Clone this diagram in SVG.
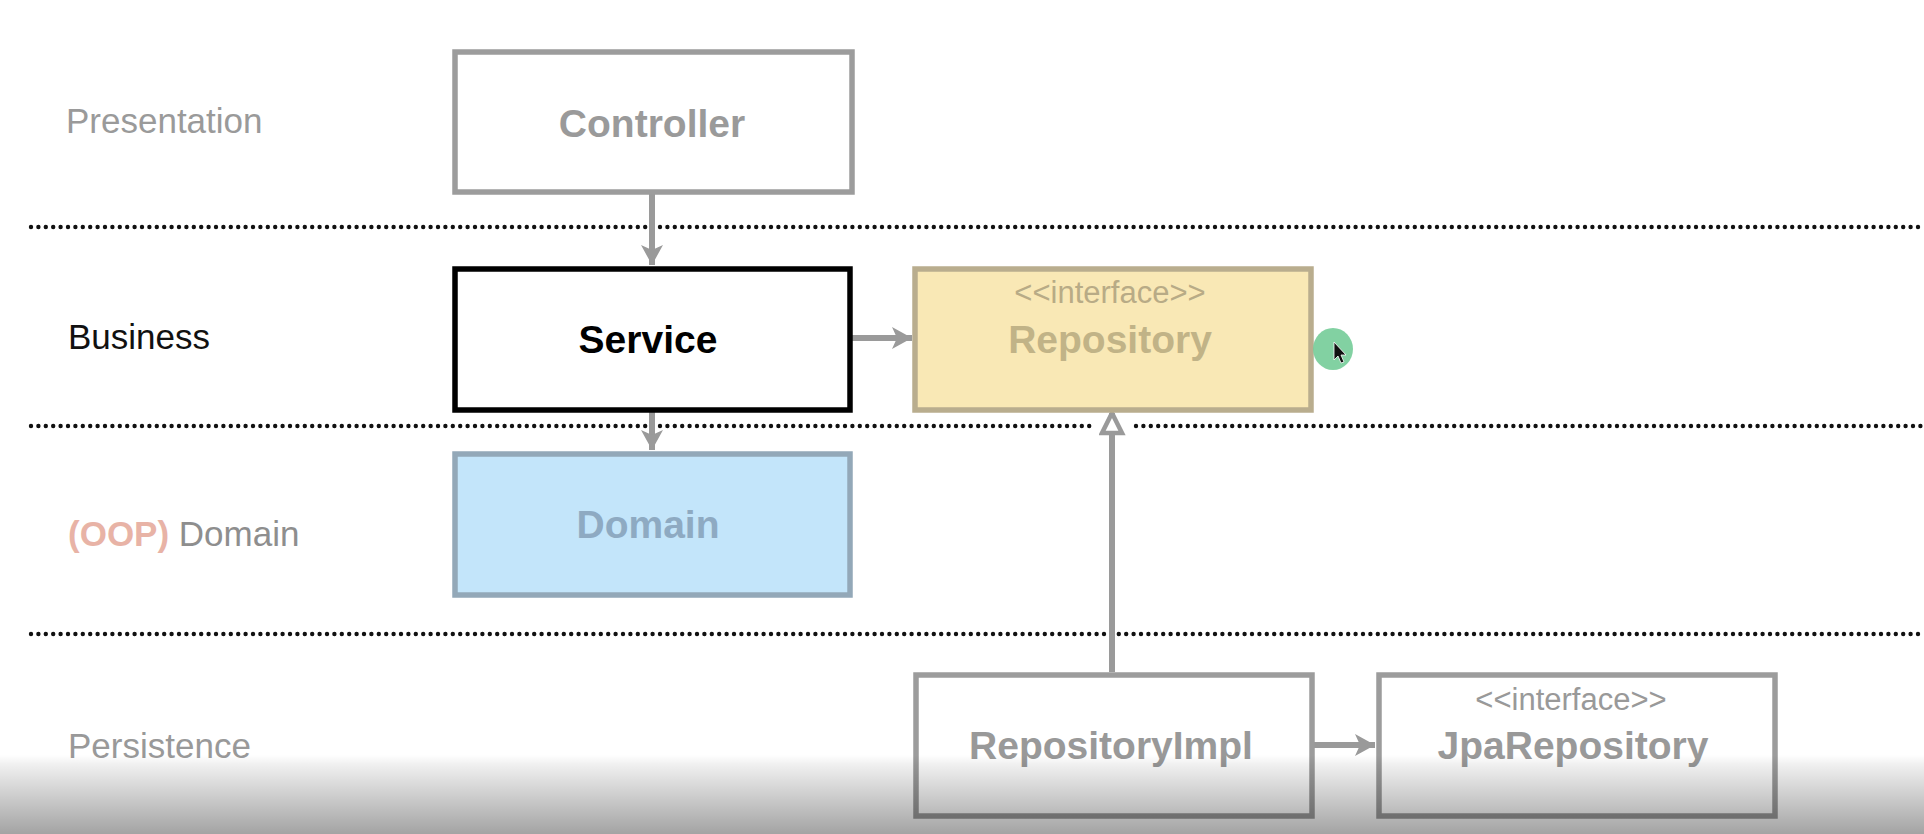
<svg xmlns="http://www.w3.org/2000/svg" width="1924" height="834" viewBox="0 0 1924 834">
  <style>
    text { font-family: "Liberation Sans", Arial, sans-serif; }
    .lbl { font-size: 35px; }
    .name { font-size: 39px; font-weight: bold; text-anchor: middle; }
    .stereo { font-size: 31px; text-anchor: middle; }
    .box { fill: #ffffff; stroke: #9c9c9c; stroke-width: 5.5; }
    .dots { stroke: #111111; stroke-width: 4.4; stroke-linecap: round; stroke-dasharray: 0 7.4; fill: none; }
    .conn { stroke: #9a9a9a; stroke-width: 6; fill: none; }
  </style>
  <defs>
    <marker id="arrow" markerUnits="userSpaceOnUse" markerWidth="26" markerHeight="26" refX="20" refY="12" orient="auto">
      <path d="M0,1 L20,12 L0,23 L5,12 Z" fill="#9a9a9a"/>
    </marker>
    <marker id="hollow" markerUnits="userSpaceOnUse" markerWidth="30" markerHeight="30" refX="23" refY="13" orient="auto">
      <path d="M3,3 L23,13 L3,23 Z" fill="#ffffff" stroke="#9a9a9a" stroke-width="4.5" stroke-linejoin="miter"/>
    </marker>
    <linearGradient id="fade" x1="0" y1="0" x2="0" y2="1">
      <stop offset="0" stop-color="#000000" stop-opacity="0"/>
      <stop offset="0.12" stop-color="#000000" stop-opacity="0.06"/>
      <stop offset="1" stop-color="#000000" stop-opacity="0.36"/>
    </linearGradient>
  </defs>
  <rect x="0" y="0" width="1924" height="834" fill="#ffffff"/>

  <g id="layer-lines">
    <line class="dots" x1="31" y1="227" x2="1924" y2="227"/>
    <line class="dots" x1="31" y1="426" x2="1090" y2="426"/>
    <line class="dots" x1="1136" y1="426" x2="1924" y2="426"/>
    <line class="dots" x1="31" y1="634" x2="1924" y2="634"/>
  </g>

  <g id="layer-labels">
    <text class="lbl" x="66" y="133" fill="#9a9a9a">Presentation</text>
    <text class="lbl" x="68" y="349" fill="#111111">Business</text>
    <text class="lbl" x="68" y="546"><tspan fill="#e8b3a6" font-weight="bold">(OOP)</tspan><tspan fill="#8e8e8e"> Domain</tspan></text>
    <text class="lbl" x="68" y="758" fill="#999999">Persistence</text>
  </g>

  <g id="connectors">
    <line class="conn" x1="652" y1="193" x2="652" y2="265" marker-end="url(#arrow)"/>
    <line class="conn" x1="852" y1="338" x2="912" y2="338" marker-end="url(#arrow)"/>
    <line class="conn" x1="652" y1="412" x2="652" y2="450" marker-end="url(#arrow)"/>
    <line class="conn" x1="1112" y1="672" x2="1112" y2="413" marker-end="url(#hollow)"/>
    <line class="conn" x1="1313" y1="745" x2="1375" y2="745" marker-end="url(#arrow)"/>
  </g>

  <g id="node-controller">
    <rect class="box" x="455" y="52" width="397" height="140"/>
    <text class="name" x="652" y="137" fill="#9a9a9a">Controller</text>
  </g>

  <g id="node-service">
    <rect x="455" y="269" width="395" height="141" fill="#ffffff" stroke="#000000" stroke-width="5.5"/>
    <text class="name" x="648" y="353" fill="#000000">Service</text>
  </g>

  <g id="node-repository">
    <rect x="915" y="269" width="396" height="141" fill="#f9e8b5" stroke="#b9ad8e" stroke-width="5.5"/>
    <text class="stereo" x="1110" y="303" fill="#b8ab86">&lt;&lt;interface&gt;&gt;</text>
    <text class="name" x="1110" y="353" fill="#c1b387">Repository</text>
  </g>

  <g id="node-domain">
    <rect x="455" y="454" width="395" height="141" fill="#c3e5fa" stroke="#93a8b8" stroke-width="5.5"/>
    <text class="name" x="648" y="538" fill="#8eaac2">Domain</text>
  </g>

  <g id="node-repositoryimpl">
    <rect class="box" x="916" y="675" width="396" height="141"/>
    <text class="name" x="1111" y="759" fill="#999999">RepositoryImpl</text>
  </g>

  <g id="node-jparepository">
    <rect class="box" x="1379" y="675" width="396" height="141"/>
    <text class="stereo" x="1571" y="710" fill="#999999">&lt;&lt;interface&gt;&gt;</text>
    <text class="name" x="1573" y="759" fill="#999999">JpaRepository</text>
  </g>

  <g id="cursor">
    <ellipse cx="1333" cy="349" rx="20" ry="21" fill="#74cc98" opacity="0.9"/>
    <path d="M1334,342 L1334,360 L1338,356 L1341,363 L1344,362 L1341,355 L1346,355 Z" fill="#111111" stroke="#ffffff" stroke-width="0.8"/>
  </g>

  <rect x="0" y="755" width="1924" height="79" fill="url(#fade)"/>
</svg>
